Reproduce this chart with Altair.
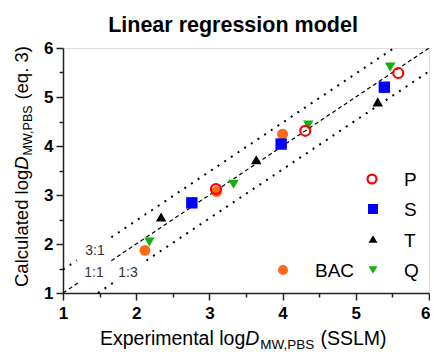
import altair as alt
import pandas as pd

# ---------------- data ----------------
P_x = [3.09, 4.31, 5.58]
P_y = [3.12, 4.31, 5.49]
S_x = [2.76, 3.98, 5.39]
S_y = [2.84, 4.04, 5.20]
T_x = [2.34, 3.64, 5.30]
T_y = [2.55, 3.72, 4.90]
Q_x = [2.18, 3.33, 4.35, 5.47]
Q_y = [2.04, 3.22, 4.43, 5.61]
BAC_x = [2.12, 3.10, 4.00]
BAC_y = [1.87, 3.07, 4.24]

# reference lines (two segments each, gap where the label sits)
l11_x = [1.0, 1.23, 1.66, 6.0]
l11_y = [1.0, 1.23, 1.66, 6.0]
l31_x = [1.0, 1.19, 1.66, 5.523]
l31_y = [1.477, 1.667, 2.137, 6.0]
l13_x = [1.477, 1.69, 2.14, 6.0]
l13_y = [1.0, 1.213, 1.663, 5.523]
seg_id = ["a", "a", "b", "b"]

ticks = [1, 1.5, 2, 2.5, 3, 3.5, 4, 4.5, 5, 5.5, 6]

FONT = "Liberation Sans"
W, H = 366, 245

# ---------------- helpers ----------------
tick_size = {"condition": {"test": "datum.value % 1 !== 0", "value": 4}, "value": 7}
label_expr = "datum.value % 1 === 0 ? format(datum.value, 'd') : ''"


def axis(orient_pad, last_right=False):
    kw = dict(values=ticks, title=None, labelExpr=label_expr, tickSize=tick_size,
              labelFontSize=17, labelFontWeight="bold", labelFont=FONT,
              labelColor="black", labelPadding=orient_pad, labelFlush=False,
              labelOverlap=False, grid=False, domainColor="#222", domainWidth=1.5,
              tickColor="#222", tickWidth=1.5)
    if last_right:
        kw["labelAlign"] = {"condition": {"test": "datum.value === 6", "value": "right"},
                            "value": "center"}
        kw["labelOffset"] = {"condition": {"test": "datum.value === 6", "value": 1},
                             "value": 0}
    return alt.Axis(**kw)


sc = alt.Scale(domain=[1, 6], nice=False, zero=False)
X = alt.X("x:Q", scale=sc, axis=axis(5, last_right=True))
Y = alt.Y("y:Q", scale=sc, axis=axis(3))


def line_df(xs, ys):
    return pd.DataFrame({"x": xs, "y": ys, "seg": seg_id})


dotted = dict(color="black", strokeWidth=2, strokeDash=[2, 6])
l31 = alt.Chart(line_df(l31_x, l31_y)).mark_line(**dotted).encode(x=X, y=Y, detail="seg:N")
l13 = alt.Chart(line_df(l13_x, l13_y)).mark_line(**dotted).encode(x=X, y=Y, detail="seg:N")
l11 = alt.Chart(line_df(l11_x, l11_y)).mark_line(color="black", strokeWidth=1.2,
                                                  strokeDash=[4, 3]).encode(x=X, y=Y, detail="seg:N")


def pts(xs, ys):
    return pd.DataFrame({"x": xs, "y": ys})


c_red, c_blue, c_blk, c_grn, c_org = "#FF0000", "#0000FF", "#000000", "#12B012", "#FF6A1A"

bac = alt.Chart(pts(BAC_x, BAC_y)).mark_point(shape="circle", filled=True, color=c_org,
                                              size=120, opacity=1).encode(x=X, y=Y)
q = alt.Chart(pts(Q_x, Q_y)).mark_point(shape="triangle-down", filled=True, color=c_grn,
                                        size=110, opacity=1).encode(x=X, y=Y)
t = alt.Chart(pts(T_x, T_y)).mark_point(shape="triangle-up", filled=True, color=c_blk,
                                        size=110, opacity=1).encode(x=X, y=Y)
s = alt.Chart(pts(S_x, S_y)).mark_point(shape="square", filled=True, color=c_blue,
                                        size=130, opacity=1).encode(x=X, y=Y)
p = alt.Chart(pts(P_x, P_y)).mark_point(shape="circle", filled=False, color=c_red,
                                        strokeWidth=2.2, size=100, opacity=1).encode(x=X, y=Y)

one = pd.DataFrame({"k": [0]})


def txt(s_, x, y, size, align="left", baseline="alphabetic", angle=0, style="normal",
        weight="normal", color="black"):
    return alt.Chart(one).mark_text(text=s_, fontSize=size, align=align, baseline=baseline,
                                    angle=angle, fontStyle=style, fontWeight=weight,
                                    font=FONT, color=color).encode(x=alt.value(x), y=alt.value(y))


def sym(x, y, shape, color, filled=True, size=90):
    kw = dict(shape=shape, filled=filled, color=color, size=size, opacity=1)
    if not filled:
        kw["strokeWidth"] = 2.2
    return alt.Chart(one).mark_point(**kw).encode(x=alt.value(x), y=alt.value(y))


# Arial-metric widths (per 1000 em)
CW = {" ": 278, "(": 333, ")": 333, ",": 278, ".": 278, "3": 556, "A": 667, "B": 667,
      "C": 722, "D": 722, "E": 667, "L": 556, "M": 833, "P": 667, "S": 667, "W": 944,
      "a": 556, "c": 500, "d": 556, "e": 556, "g": 556, "i": 222, "l": 222, "m": 833,
      "n": 556, "o": 556, "p": 556, "q": 556, "r": 333, "t": 278, "u": 556, "x": 500}


def tw(s_, size):
    return sum(CW[c] for c in s_) / 1000 * size


# x-axis title pieces
xf, xs_ = 19.5, 13.5
x0, xb = 37, 297
xt = []
cx = x0
xt.append(txt("Experimental log", cx, xb, xf)); cx += tw("Experimental log", xf)
xt.append(txt("D", cx, xb, xf, style="italic")); cx += tw("D", xf) + 1
xt.append(txt("MW,PBS", cx, xb + 4, xs_)); cx += tw("MW,PBS", xs_) + tw(" ", xf)
xt.append(txt("(SSLM)", cx, xb, xf))

# y-axis title pieces (rotated)
yf, ys_ = 18.5, 12.5
y0, yb = 239, -35
yt = []
cy = y0
yt.append(txt("Calculated log", yb, cy, yf, angle=270)); cy -= tw("Calculated log", yf)
yt.append(txt("D", yb, cy, yf, angle=270, style="italic")); cy -= tw("D", yf) + 1
yt.append(txt("MW,PBS", yb + 4, cy, ys_, angle=270)); cy -= tw("MW,PBS", ys_) + tw(" ", yf)
yt.append(txt("(eq. 3)", yb, cy, yf, angle=270))

title = txt("Linear regression model", 170, -16, 21.5, align="center", weight="bold")

line_labels = [
    txt("3:1", 32, 203, 14, align="center", baseline="middle", color="#333"),
    txt("1:1", 31, 225, 14, align="center", baseline="middle", color="#333"),
    txt("1:3", 65, 225, 14, align="center", baseline="middle", color="#333"),
]

legend = [
    sym(309, 131, "circle", c_red, filled=False, size=80),
    txt("P", 341, 132, 19, baseline="middle"),
    sym(310, 161, "square", c_blue, size=100),
    txt("S", 341, 162, 19, baseline="middle"),
    sym(310, 191, "triangle-up", c_blk, size=80),
    txt("T", 341, 193, 19, baseline="middle"),
    sym(310, 222, "triangle-down", c_grn, size=80),
    txt("Q", 341, 223, 19, baseline="middle"),
    sym(220, 222, "circle", c_org, size=100),
    txt("BAC", 252, 223, 19, baseline="middle"),
]

chart = alt.layer(
    l31, l13, l11, bac, q, t, s, p, title, *line_labels, *legend, *xt, *yt
).properties(
    width=W, height=H,
    autosize=alt.AutoSizeParams(type="none"),
    padding={"left": 55, "top": 40, "right": 1, "bottom": 59},
).configure_view(
    stroke="#222", strokeWidth=1.5
).configure(font=FONT)

chart.save("out.html", embed_options={"renderer": "svg", "actions": False})
